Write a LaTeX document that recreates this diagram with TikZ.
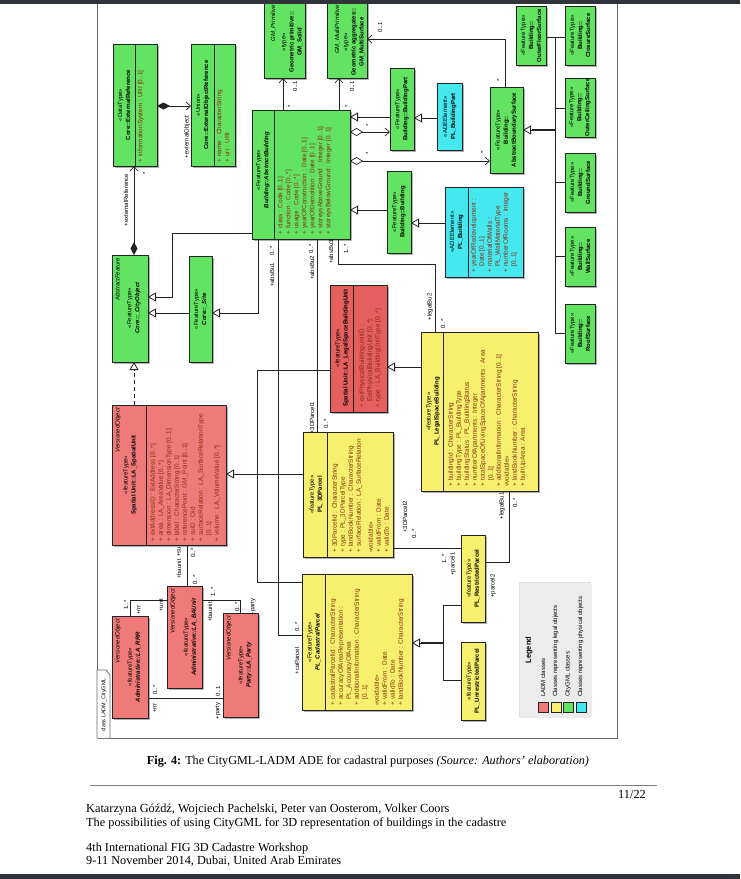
\documentclass[tikz,border=0pt]{standalone}
\usepackage{fontspec}
\setmainfont{Liberation Serif}
\newfontfamily\dsf{Liberation Sans}
\usetikzlibrary{arrows.meta}

\definecolor{gfill}{RGB}{98,228,98}
\definecolor{rfill}{RGB}{240,122,122}
\definecolor{rdfill}{RGB}{230,95,95}
\definecolor{yfill}{RGB}{246,240,110}
\definecolor{cfill}{RGB}{70,232,240}
\definecolor{linec}{RGB}{35,35,35}
\definecolor{attrc}{RGB}{135,45,10}
\definecolor{shadowc}{RGB}{175,175,175}
\definecolor{framec}{RGB}{105,105,105}
\definecolor{bandc}{RGB}{48,52,58}
\definecolor{legc}{RGB}{236,236,236}

\newcommand\pl{+\hspace{2.5pt}}
\newcommand\ind{\hphantom{+\hspace{2.5pt}}}
\newcommand\cls[6]{%
  \fill[shadowc] ({#2+2},{#3+2}) rectangle ({#4+2},{#5+2});
  \node[box, fill=#6, minimum width={(#4-(#2))*1pt}, minimum height={(#5-(#3))*1pt}] (#1) at (#2,#3) {};}
\newcommand\dvd[3]{\draw[linec, line width=0.6pt] (#1,#2) -- (#1,#3);}
\newcommand\nmt[4]{\node[nametext] (#1) at (#2,#3) {#4};}
\newcommand\att[4]{\node[attrtext] (#1) at (#2,#3) {#4};}
\newcommand\prt[4]{\node[partext] (#1) at (#2,#3) {#4};}

\tikzset{
  box/.style={rectangle, draw=linec, line width=0.6pt, inner sep=0pt, outer sep=0pt, anchor=north west},
  nametext/.style={rotate=90, align=center, font=\dsf\fontsize{6}{8}\selectfont, inner sep=0pt, text=black},
  attrtext/.style={rotate=90, anchor=north west, align=left, font=\dsf\fontsize{6.4}{8}\selectfont, inner sep=0pt, text=attrc},
  partext/.style={rotate=90, anchor=north east, font=\dsf\itshape\fontsize{6}{8}\selectfont, inner sep=0pt},
  lbl/.style={rotate=90, font=\dsf\fontsize{6}{6}\selectfont, inner sep=0pt},
  con/.style={draw=linec, line width=0.7pt},
  gen/.style={con, -{Triangle[open, fill=white, length=8pt, width=9pt, line width=0.8pt]}},
  asc/.style={con, -{Straight Barb[length=4.5pt, width=8pt]}},
  compo/.style={con, {Diamond[length=13pt, width=7pt]}-{Straight Barb[length=4.5pt, width=8pt]}},
  aggr/.style={con, {Diamond[open, fill=white, length=13pt, width=8pt]}-{Straight Barb[length=4.5pt, width=8pt]}},
  foot/.style={font=\fontsize{12.3}{14}\selectfont, inner sep=0pt},
}

\begin{document}
\begin{tikzpicture}[x=1pt,y=-1pt]
\useasboundingbox (0,0) rectangle (740,879);
\fill[white] (0,0) rectangle (740,879);

% frame
\draw[framec, line width=1pt] (97,-5) -- (97,738) -- (617,738) -- (617,-5);
\draw[framec, line width=0.8pt, fill=white] (97,738) -- (97,670) -- (106,670) -- (110,675) -- (110,738);
\node[rotate=90, font=\dsf\fontsize{5.5}{6}\selectfont, inner sep=0pt] (tab) at (104,705) {class LADM\_CityGML};

\coordinate (strunk) at (555,130);
\coordinate (ptrunk) at (443,643);

% classes
\cls{extref}{113}{44}{157}{166}{gfill}
\dvd{135}{44}{166}
\cls{extobj}{191}{44}{235}{166}{gfill}
\dvd{214}{44}{166}
\cls{gmsolid}{264}{-12}{305}{78}{gfill}
\cls{gmmulti}{327}{-12}{367}{78}{gfill}
\cls{absbld}{252}{110}{350}{239}{gfill}
\dvd{274}{110}{239}
\cls{bldpart}{390}{68}{414}{150}{gfill}
\cls{plbldpart}{437}{83}{462}{150}{cfill}
\cls{bld}{387}{171}{411}{253}{gfill}
\cls{plbld}{445}{187}{523}{277}{cfill}
\dvd{468}{187}{277}
\cls{abssurf}{490}{87}{523}{173}{gfill}
\cls{outfloor}{516}{6}{546}{65}{gfill}
\cls{closure}{565}{6}{595}{65}{gfill}
\cls{outceil}{565}{78}{595}{137}{gfill}
\cls{ground}{565}{153}{595}{212}{gfill}
\cls{wall}{565}{227}{595}{286}{gfill}
\cls{roof}{565}{304}{595}{363}{gfill}
\cls{cityobj}{112}{255}{148}{362}{gfill}
\cls{site}{189}{256}{212}{362}{gfill}
\cls{spunit}{112}{405}{226}{545}{rfill}
\dvd{146}{405}{545}
\cls{lsbu}{330}{285}{387}{412}{rdfill}
\dvd{353}{285}{412}
\cls{plls}{421}{332}{538}{491}{yfill}
\dvd{443}{332}{491}
\cls{p3d}{303}{432}{393}{557}{yfill}
\dvd{327}{432}{557}
\cls{cadp}{302}{574}{412}{710}{yfill}
\dvd{325}{574}{710}
\cls{restp}{461}{535}{485}{622}{yfill}
\cls{unrestp}{461}{642}{485}{720}{yfill}
\cls{rrr}{112}{616}{148}{718}{rfill}
\cls{baunit}{167}{586}{202}{688}{rfill}
\cls{party}{223}{613}{258}{717}{rfill}

% texts
\nmt{extref-n}{124}{105}{«DataType»\\\textbf{Core::ExternalReference}}
\att{extref-a}{137.5}{163}{\pl informationSystem : URI [0..1]}
\nmt{extobj-n}{202.5}{105}{«Union»\\\textbf{Core::ExternalObjectReference}}
\att{extobj-a}{216.5}{163}{\pl name : CharacterString\\\pl uri : URI}

\prt{gms-p}{270.5}{5}{GM\_Primitive}
\nmt{gms-n}{292}{42}{«type»\\\textbf{Geometric primitive::}\\\textbf{GM\_Solid}}
\prt{gmm-p}{334.5}{5}{GM\_MultiPrimitive}
\nmt{gmm-n}{354}{42}{«type»\\\textbf{Geometric aggregates::}\\\textbf{GM\_MultiSurface}}

\nmt{absbld-n}{263}{170}{«FeatureType»\\\textbf{\textit{Building::AbstractBuilding}}}
\att{absbld-a}{277.5}{235}{\pl class : Code [0..1]\\\pl function : Code [0..*]\\\pl usage : Code [0..*]\\\pl yearOfConstruction : Date [0..1]\\\pl yearOfDemolition : Date [0..1]\\\pl storeysAboveGround : Integer [0..1]\\\pl storeysBelowGround : Integer [0..1]}

\nmt{bldpart-n}{402}{109}{«FeatureType»\\\textbf{Building::BuildingPart}}
\nmt{plbldpart-n}{449.5}{116.5}{«ADEElement»\\\textbf{PL\_BuildingPart}}
\nmt{bld-n}{399}{212}{«FeatureType»\\\textbf{Building::Building}}
\nmt{plbld-n}{456.5}{232}{«ADEElement»\\\textbf{PL\_Building}}
\att{plbld-a}{471}{273}{\pl yearOfRedevelopment :\\\ind Date [0..1]\\\pl materialOfWalls :\\\ind PL\_WallMaterialType\\\pl numberOfRooms : Integer\\\ind [0..1]}
\nmt{abssurf-n}{506.5}{130}{«FeatureType»\\\textbf{Building::}\\\textbf{AbstractBoundarySurface}}
\nmt{outfloor-n}{531}{35.5}{«FeatureType»\\\textbf{Building::}\\\textbf{OuterFloorSurface}}
\nmt{closure-n}{580}{35.5}{«FeatureType»\\\textbf{Building::}\\\textbf{ClosureSurface}}
\nmt{outceil-n}{580}{107.5}{«FeatureType»\\\textbf{Building::}\\\textbf{OuterCeilingSurface}}
\nmt{ground-n}{580}{182.5}{«FeatureType»\\\textbf{Building::}\\\textbf{GroundSurface}}
\nmt{wall-n}{580}{256.5}{«FeatureType»\\\textbf{Building::}\\\textbf{WallSurface}}
\nmt{roof-n}{580}{333.5}{«FeatureType»\\\textbf{Building::}\\\textbf{RoofSurface}}

\prt{cityobj-p}{115}{258}{AbstractFeature}
\nmt{cityobj-n}{134}{308}{«FeatureType»\\\textbf{\textit{Core::\_CityObject}}}
\nmt{site-n}{200.5}{309}{«FeatureType»\\\textbf{\textit{Core::\_Site}}}

\prt{spunit-p}{115}{408}{VersionedObject}
\nmt{spunit-n}{130}{475}{«featureType»\\\textbf{Spatial Unit::LA\_SpatialUnit}}
\att{spunit-a}{150}{542}{\pl extAddressID : ExtAddress [0..*]\\\pl area : LA\_AreaValue [0..*]\\\pl dimension : LA\_DimensionType [0..1]\\\pl label : CharacterString [0..1]\\\pl referencePoint : GM\_Point [0..1]\\\pl suID : Oid\\\pl surfaceRelation : LA\_SurfaceRelationType\\\ind [0..1]\\\pl volume : LA\_VolumeValue [0..*]}

\nmt{lsbu-n}{342}{348}{«featureType»\\\textbf{Spatial Unit::LA\_LegalSpaceBuildingUnit}}
\att{lsbu-a}{359}{408}{\pl extPhysicalBuildingUnitID :\\\ind ExtPhysicalBuildingUnit [0..*]\\\pl type : LA\_BuildingUnitType [0..*]}

\nmt{plls-n}{433}{411.5}{«featureType»\\\textbf{PL\_LegalSpaceBuilding}}
\att{plls-a}{448}{487}{\pl buildingId : CharacterString\\\pl buildingType : PL\_BuildingType\\\pl buildingStatus : PL\_BuildingStatus\\\pl numberOfApartments : Integer\\\pl totalSpaceOfLivingSpaceOfApartments : Area\\\ind [0..1]\\\pl additionalInformation : CharacterString [0..1]\\«voidable»\\\pl landBookNumber : CharacterString\\\pl builtUpArea : Area}

\nmt{p3d-n}{316}{494.5}{«featureType»\\\textbf{PL\_3DParcel}}
\att{p3d-a}{332}{553}{\pl 3DParcelId : CharacterString\\\pl type : PL\_3DParcelType\\\pl landBookNumber : CharacterString\\\pl surfaceRelation : LA\_SurfaceRelation\\[4pt]«voidable»\\\pl validFrom : Date\\\pl validTo : Date}

\nmt{cadp-n}{314}{642}{«FeatureType»\\\textbf{\textit{PL\_CadastralParcel}}}
\att{cadp-a}{330}{706}{\pl cadastralParcelId : CharacterString\\\pl accuracyOfAreaRepresentation :\\\ind PL\_AccuracyOfArea\\\pl additionalInformation : CharacterString\\\ind [0..1]\\[4pt]«voidable»\\\pl validFrom : Date\\\pl validTo : Date\\\pl landBookNumber : CharacterString}

\nmt{restp-n}{473}{578.5}{«featureType»\\\textbf{PL\_RestrictedParcel}}
\nmt{unrestp-n}{473}{681}{«featureType»\\\textbf{PL\_UnrestrictedParcel}}

\prt{rrr-p}{115}{619}{VersionedObject}
\nmt{rrr-n}{134}{667}{«featureType»\\\textbf{\textit{Administrative::LA\_RRR}}}
\prt{baunit-p}{170}{589}{VersionedObject}
\nmt{baunit-n}{190}{637}{«featureType»\\\textbf{\textit{Administrative::LA\_BAUnit}}}
\prt{party-p}{226}{616}{VersionedObject}
\nmt{party-n}{245}{665}{«featureType»\\\textbf{\textit{Party::LA\_Party}}}

% ---------- connectors ----------
\draw[compo] (extref.east |- 0,106) -- (extobj.west |- 0,106);
\draw[compo] (cityobj.north -| 134,0) -- (extref.south -| 134,0);
\draw[asc] (absbld.north -| 283,0) -- (gmsolid.south -| 283,0);
\draw[asc] (absbld.north -| 339,0) -- (gmmulti.south -| 339,0);
\draw[asc] (abssurf.north -| 505,0) -- (505,39) -- (gmmulti.east |- 0,39);
\draw[gen] (bldpart.west |- 0,117) -- (absbld.east |- 0,117);
\draw[gen] (plbldpart.west |- 0,118) -- (bldpart.east |- 0,118);
\draw[aggr] (absbld.east |- 0,132) -- (bldpart.west |- 0,132);
\draw[aggr] (absbld.east |- 0,161) -- (abssurf.west |- 0,161);
\draw[gen] (bld.west |- 0,210) -- (absbld.east |- 0,210);
\draw[gen] (plbld.west |- 0,223) -- (bld.east |- 0,223);
% boundary surfaces tree
\draw[gen] (strunk) -- (abssurf.east |- 0,130);
\draw[linec, line width=1.8pt] (strunk) -- (532,130);
\draw[con] (outfloor.east |- 0,37) -- (closure.west |- 0,37);
\draw[con] (555,37) -- (555,333) -- (roof.west |- 0,333);
\draw[con] (555,108) -- (outceil.west |- 0,108);
\draw[con] (555,182) -- (ground.west |- 0,182);
\draw[con] (555,256) -- (wall.west |- 0,256);
% core generalizations
\draw[gen] (absbld.west |- 0,233) -- (172,233) -- (172,297) -- (cityobj.east |- 0,297);
\draw[gen] (absbld.south -| 258,0) -- (258,313) -- (site.east |- 0,313);
\draw[gen] (site.west |- 0,313) -- (cityobj.east |- 0,313);
\draw[gen, dash pattern=on 4pt off 3pt] (spunit.north -| 134,0) -- (cityobj.south -| 134,0);
% spatial unit tree
\draw[gen] (p3d.west |- 0,474) -- (spunit.east |- 0,474);
\draw[con] (lsbu.west |- 0,370) -- (257,370) -- (257,582) -- (cadp.west |- 0,582);
% abstract building associations
\draw[con] (absbld.south -| 278,0) -- (278,635) -- (cadp.west |- 0,635);
\draw[con] (absbld.south -| 317,0) -- (p3d.north -| 317,0);
\draw[con] (absbld.south -| 338,0) -- (338,264) -- (435,264) -- (plls.north -| 435,0);
\draw[gen] (plls.west |- 0,367) -- (lsbu.east |- 0,367);
\draw[con] (p3d.east |- 0,548) -- (restp.west |- 0,548);
\draw[con] (plls.south -| 509,0) -- (509,562) -- (restp.east |- 0,562);
% parcel tree
\draw[gen] (ptrunk) -- (cadp.east |- 0,643);
\draw[linec, line width=1.8pt] (ptrunk) -- (421,643);
\draw[con] (restp.west |- 0,605) -- (443,605) -- (443,680) -- (unrestp.west |- 0,680);
% LADM
\draw[con] (spunit.south -| 187,0) -- (baunit.north -| 187,0);
\draw[con] (rrr.north -| 130,0) -- (130,600) -- (baunit.west |- 0,600);
\draw[con] (baunit.east |- 0,600) -- (240,600) -- (party.north -| 240,0);
\draw[con] (rrr.east |- 0,698) -- (party.west |- 0,698);

% ---------- labels ----------
\node[lbl] (lA) at (187,137) {+externalObject};
\node[lbl] (lB1) at (126,200) {+externalReference};
\node[lbl] (lB2) at (145,173) {*};
\node[lbl] (lC1) at (295,86) {0..1};
\node[lbl] (lC2) at (290,106) {*};
\node[lbl] (lD1) at (352,86) {0..1};
\node[lbl] (lD2) at (347,106) {*};
\node[lbl] (lE1) at (380,27) {0..1};
\node[lbl] (lE2) at (499,80) {*};
\node[lbl] (lH1) at (368,125) {*};
\node[lbl] (lI1) at (368,153) {*};
\node[lbl] (lI2) at (483,152) {*};
\node[lbl] (lR1) at (272,251) {0..*};
\node[lbl] (lR2) at (272,275) {+absBu1};
\node[lbl] (lR3) at (297,627) {0..*};
\node[lbl] (lR4) at (297,661) {+caParcel};
\node[lbl] (lS1) at (311,249) {0..*};
\node[lbl] (lS2) at (312,268) {+absBu2};
\node[lbl] (lS3) at (312,418) {+3DParcel1};
\node[lbl] (lS4) at (326,424) {0..*};
\node[lbl] (lT1) at (331,252) {+absBu3};
\node[lbl] (lT2) at (346,249) {1..*};
\node[lbl] (lT3) at (430,307) {+legalBu2};
\node[lbl] (lT4) at (443,324) {0..*};
\node[lbl] (lV1) at (405,517) {+3DParcel2};
\node[lbl] (lV2) at (414,534) {0..*};
\node[lbl] (lV3) at (444,559) {1..*};
\node[lbl] (lV4) at (453,564) {+parcel1};
\node[lbl] (lW1) at (502,506) {+legalBu1};
\node[lbl] (lW2) at (515,503) {0..*};
\node[lbl] (lW3) at (493,586) {+parcel2};
\node[lbl] (lY1) at (179,552) {+su};
\node[lbl] (lY2) at (193,553) {0..*};
\node[lbl] (lY3) at (179,569) {+baunit};
\node[lbl] (lY4) at (195,580) {0..*};
\node[lbl] (lZ1) at (126,605) {1..*};
\node[lbl] (lZ2) at (139,610) {+rrr};
\node[lbl] (lZ3) at (161,605) {+unit};
\node[lbl] (lAA1) at (213,592) {1..*};
\node[lbl] (lAA2) at (210,612) {+baunit};
\node[lbl] (lAA3) at (237,607) {0..*};
\node[lbl] (lAA4) at (253,607) {+party};
\node[lbl] (lAB1) at (155,690) {0..*};
\node[lbl] (lAB2) at (155,708) {+rrr};
\node[lbl] (lAB3) at (218,691) {0..1};
\node[lbl] (lAB4) at (218,711) {+party};

% ---------- legend ----------
\node[rectangle, draw=gray!40, fill=legc, rounded corners=2pt, minimum width=72pt, minimum height=135pt, anchor=north west, inner sep=0pt] (leg) at (519,582) {};
\node[rotate=90, font=\dsf\bfseries\fontsize{7.5}{8}\selectfont, inner sep=0pt] (legt) at (529,650) {Legend};
\node[rectangle, draw=linec, fill=rfill, minimum size=10pt, inner sep=0pt, anchor=north west] (sq1) at (538,702) {};
\node[rectangle, draw=linec, fill=yfill, minimum size=10pt, inner sep=0pt, anchor=north west] (sq2) at (550.5,702) {};
\node[rectangle, draw=linec, fill=gfill, minimum size=10pt, inner sep=0pt, anchor=north west] (sq3) at (563,702) {};
\node[rectangle, draw=linec, fill=cfill, minimum size=10pt, inner sep=0pt, anchor=north west] (sq4) at (575.5,702) {};
\node[rotate=90, anchor=west, font=\dsf\fontsize{6}{7}\selectfont, inner sep=0pt] (lt1) at (543,697) {LADM classes};
\node[rotate=90, anchor=west, font=\dsf\fontsize{6}{7}\selectfont, inner sep=0pt] (lt2) at (555.5,697) {Classes representing legal objects};
\node[rotate=90, anchor=west, font=\dsf\fontsize{6}{7}\selectfont, inner sep=0pt] (lt3) at (568,697) {CityGML classes};
\node[rotate=90, anchor=west, font=\dsf\fontsize{6}{7}\selectfont, inner sep=0pt] (lt4) at (580.5,697) {Classes representing physical objects};

% ---------- caption & footer ----------
\node[anchor=base, font=\fontsize{12.2}{14}\selectfont, inner sep=0pt] (cap) at (368,764) {\textbf{Fig. 4:} The CityGML-LADM ADE for cadastral purposes \textit{(Source: Authors' elaboration)}};
\draw[gray, line width=1pt] (90,785) -- (657,785);
\node[foot, anchor=base east] (pg) at (646,798) {11/22};
\node[foot, anchor=base west] (f1) at (86,812) {Katarzyna Góźdź, Wojciech Pachelski, Peter van Oosterom, Volker Coors};
\node[foot, anchor=base west] (f2) at (86,826) {The possibilities of using CityGML for 3D representation of buildings in the cadastre};
\node[foot, anchor=base west] (f3) at (86,851) {4th International FIG 3D Cadastre Workshop};
\node[foot, anchor=base west] (f4) at (86,864) {9-11 November 2014, Dubai, United Arab Emirates};

% bands
\fill[bandc] (0,0) rectangle (740,3.5);
\fill[bandc] (0,874) rectangle (740,879);
\end{tikzpicture}
\end{document}
